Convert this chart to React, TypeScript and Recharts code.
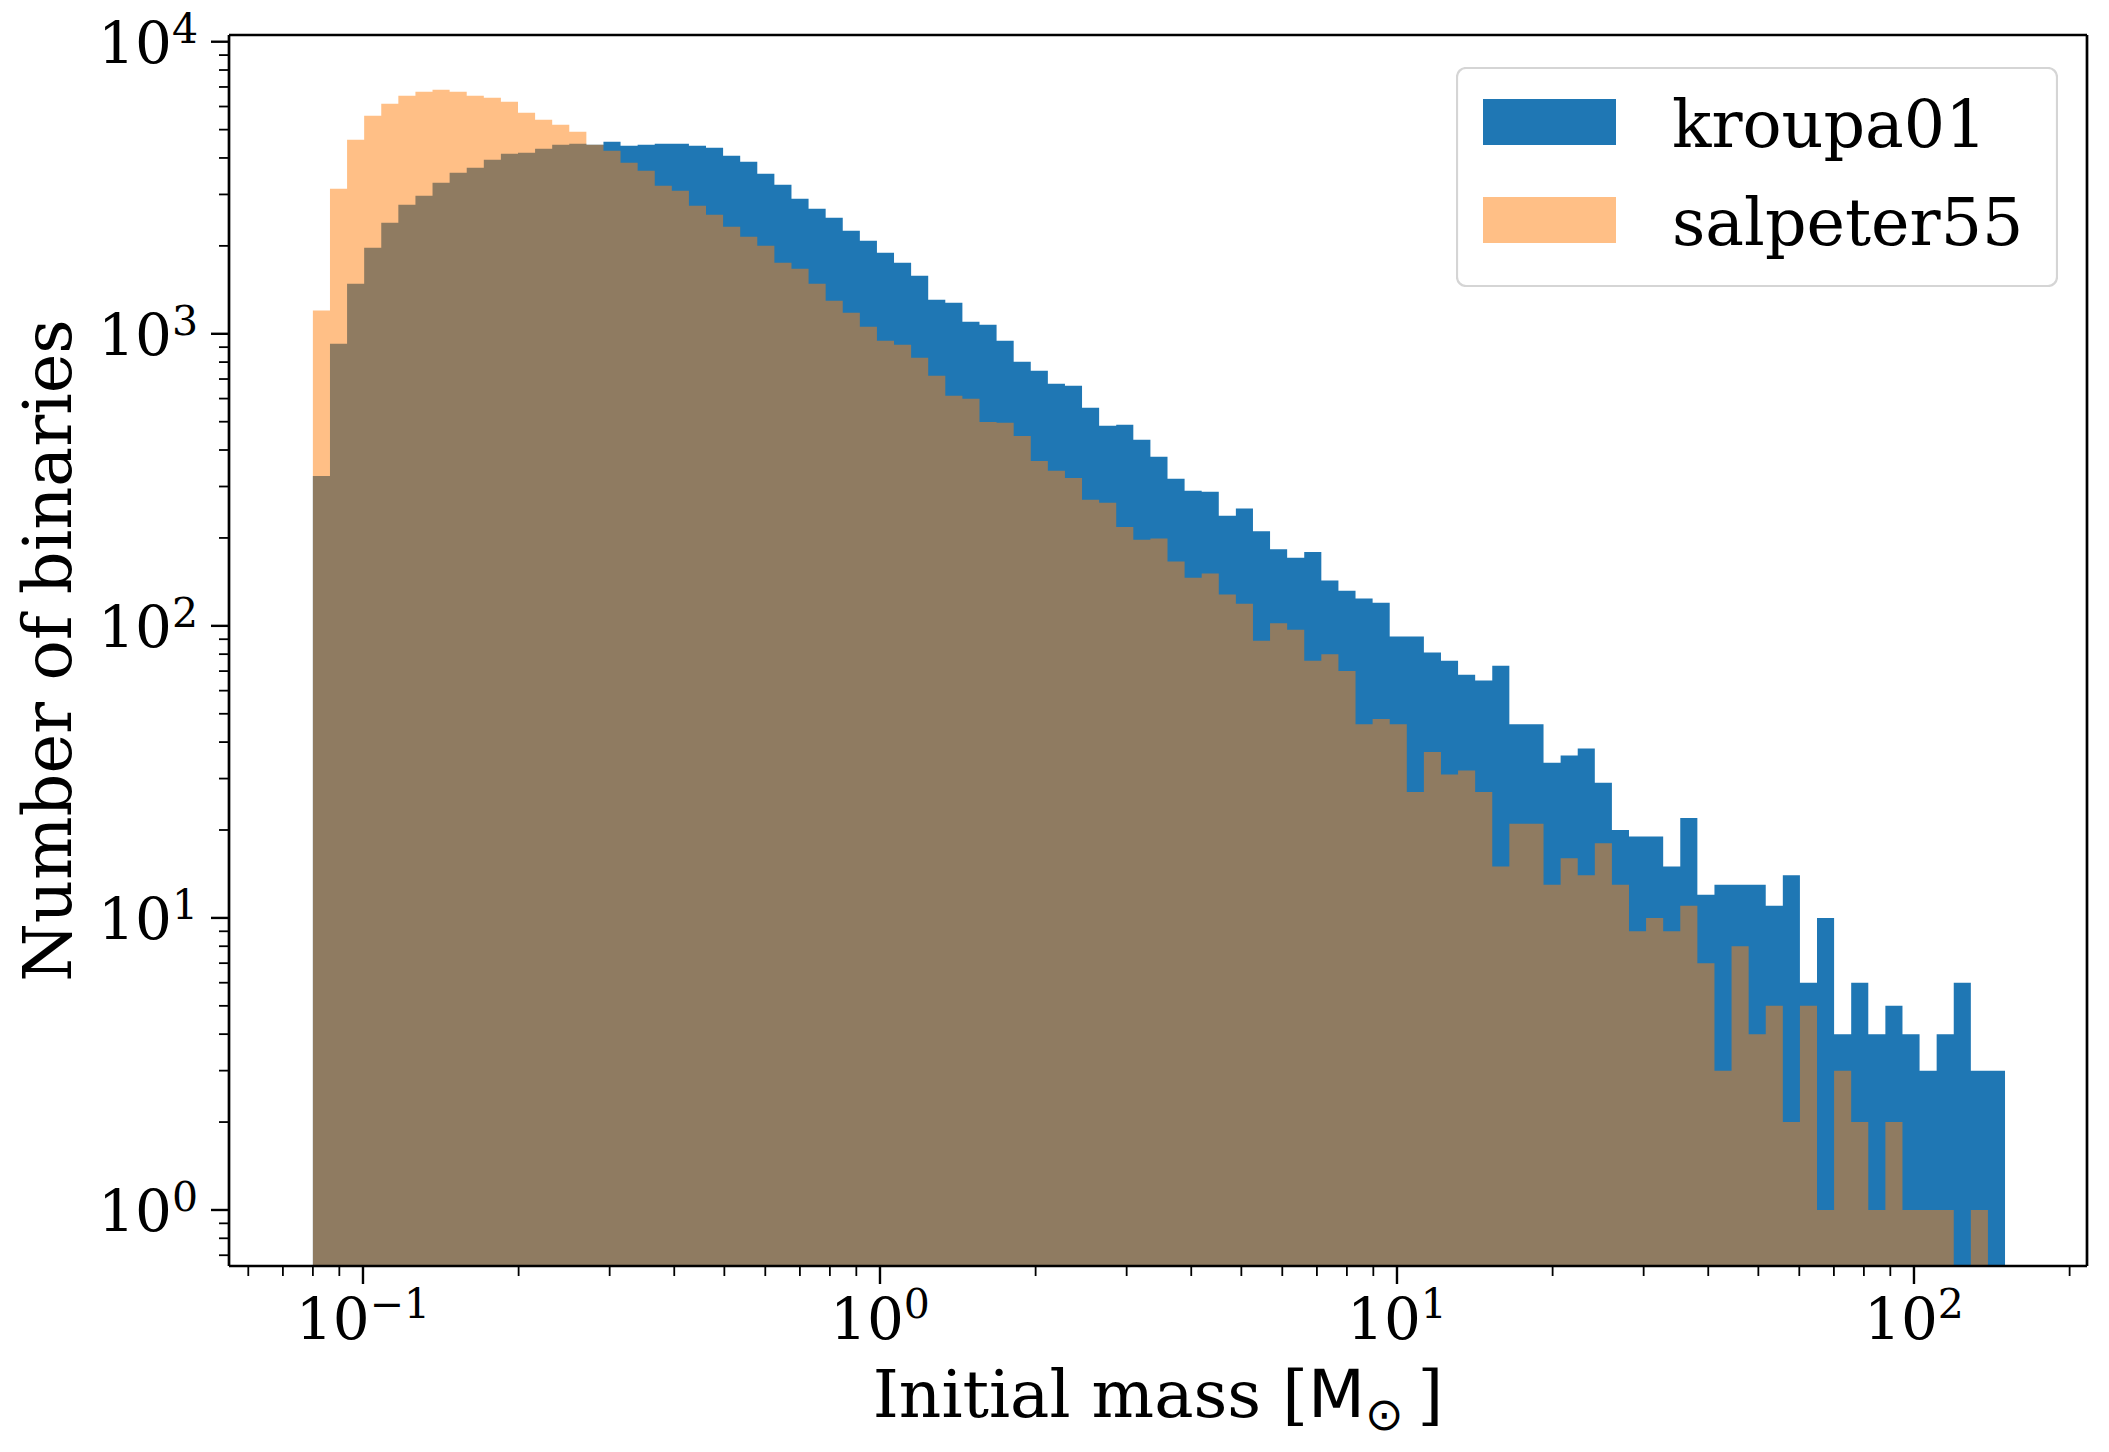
import { ComposedChart, Area, XAxis, YAxis, Legend, ReferenceLine } from "recharts"

// counts per log-spaced mass bin (99 bins from 0.08 to 150 Msun)
const KROUPA01 = [
  326, 924, 1483, 1970, 2399, 2765, 2969, 3289, 3560, 3703,
  3944, 4134, 4168, 4301, 4439, 4474, 4439, 4545, 4404, 4439,
  4474, 4474, 4404, 4335, 4070, 3882, 3531, 3238, 2900, 2680,
  2496, 2253, 2082, 1894, 1751, 1580, 1307, 1277, 1099, 1074,
  946, 802, 747, 674, 664, 558, 484, 488, 434, 379,
  319, 290, 288, 238, 252, 211, 183, 171, 179, 143,
  132, 124, 120, 92, 92, 81, 76, 68, 65, 73,
  46, 46, 34, 36, 38, 29, 20, 19, 19, 15,
  22, 12, 13, 13, 13, 11, 14, 6, 10, 4,
  6, 4, 5, 4, 3, 4, 6, 3, 3,
]

const SALPETER55 = [
  1202, 3138, 4617, 5580, 6134, 6534, 6743, 6850, 6743, 6534,
  6430, 6230, 5712, 5406, 5197, 4918, 4439, 4233, 3851, 3615,
  3212, 3088, 2744, 2556, 2325, 2149, 2002, 1751, 1669, 1483,
  1297, 1180, 1057, 946, 917, 828, 718, 613, 599, 499,
  496, 447, 367, 340, 321, 270, 264, 218, 197, 199,
  166, 146, 151, 128, 119, 89, 102, 97, 76, 80,
  70, 46, 48, 46, 27, 37, 31, 32, 27, 15,
  21, 21, 13, 16, 14, 18, 13, 9, 10, 9,
  11, 7, 3, 8, 4, 5, 2, 5, 1, 3,
  2, 1, 2, 1, 1, 1, 0, 1, 0,
]

const BIN_LO = 0.08
const BIN_HI = 150

const X_MAJOR = [0.1, 1, 10, 100]
const X_MINOR = [
  0.06, 0.07, 0.08, 0.09, 0.2, 0.3, 0.4, 0.5, 0.6, 0.7, 0.8, 0.9,
  2, 3, 4, 5, 6, 7, 8, 9, 20, 30, 40, 50, 60, 70, 80, 90, 200,
]
const Y_MAJOR = [1, 10, 100, 1000, 10000]
const Y_MINOR = [
  0.7, 0.8, 0.9, 2, 3, 4, 5, 6, 7, 8, 9, 20, 30, 40, 50, 60, 70, 80, 90,
  200, 300, 400, 500, 600, 700, 800, 900, 2000, 3000, 4000, 5000, 6000,
  7000, 8000, 9000,
]

const SERIES = [
  { key: "kroupa01", name: "kroupa01", fill: "#1f77b4", opacity: 1, swatch: "#1f77b4" },
  { key: "salpeter55", name: "salpeter55", fill: "#ff7f0e", opacity: 0.5, swatch: "#ffbf86" },
]

const W = 2109
const H = 1452
const PLOT_LEFT = 229
const PLOT_RIGHT = 2087
const PLOT_TOP = 35
const PLOT_BOTTOM = 1266

const X_MIN = 0.05506
const X_MAX = 216.1
const Y_MIN = 0.643
const Y_MAX = 10544

const FONT = "DejaVu Serif"
const TICK_FONT = 58
const SUP_FONT = 41

const nBins = KROUPA01.length
const edges = Array.from(
  { length: nBins + 1 },
  (_, i) => BIN_LO * (BIN_HI / BIN_LO) ** (i / nBins)
)
const floorVal = (v: number) => (v > 0 ? v : Y_MIN)
const rows = edges.map((mass, i) => {
  const j = Math.min(i, nBins - 1)
  return {
    mass,
    kroupa01: floorVal(KROUPA01[j]),
    salpeter55: floorVal(SALPETER55[j]),
  }
})

function expLabel(v: number) {
  const e = Math.round(Math.log10(v))
  return e < 0 ? `\u2212${-e}` : `${e}`
}

function XTick(props: any) {
  const { x, payload } = props
  const v = payload.value
  const major = X_MAJOR.includes(v)
  return (
    <g>
      <line
        x1={x}
        x2={x}
        y1={PLOT_BOTTOM}
        y2={PLOT_BOTTOM + (major ? 18 : 10)}
        stroke="#000"
        strokeWidth={major ? 2.4 : 1.8}
      />
      {major && (
        <text
          x={x}
          y={1339}
          textAnchor="middle"
          fontFamily={FONT}
          fontSize={TICK_FONT}
          fill="#000"
        >
          10
          <tspan dy={-21} fontSize={SUP_FONT}>
            {expLabel(v)}
          </tspan>
        </text>
      )}
    </g>
  )
}

function YTick(props: any) {
  const { y, payload } = props
  const v = payload.value
  const major = Y_MAJOR.includes(v)
  return (
    <g>
      <line
        x1={PLOT_LEFT - (major ? 18 : 10)}
        x2={PLOT_LEFT}
        y1={y}
        y2={y}
        stroke="#000"
        strokeWidth={major ? 2.4 : 1.8}
      />
      {major && (
        <text
          x={PLOT_LEFT - 31}
          y={y + 21}
          textAnchor="end"
          fontFamily={FONT}
          fontSize={TICK_FONT}
          fill="#000"
        >
          10
          <tspan dy={-20} fontSize={SUP_FONT}>
            {expLabel(v)}
          </tspan>
        </text>
      )}
    </g>
  )
}

function LegendBox() {
  return (
    <svg width={602} height={220} style={{ display: "block" }}>
      <rect
        x={1}
        y={1}
        width={600}
        height={218}
        rx={9}
        ry={9}
        fill="#fff"
        stroke="#d5d5d5"
        strokeWidth={2.2}
      />
      {SERIES.map((s, i) => (
        <g key={s.key}>
          <rect x={27} y={32 + i * 98} width={133} height={46} fill={s.swatch} />
          <text
            x={216}
            y={80 + i * 98}
            fontFamily={FONT}
            fontSize={65}
            fill="#000"
          >
            {s.name}
          </text>
        </g>
      ))}
    </svg>
  )
}

export default function App() {
  const spine = { stroke: "#000", strokeWidth: 2.7 }
  return (
    <div style={{ position: "absolute", left: 0, top: 0, width: W, height: H, background: "#fff" }}>
      <ComposedChart
        width={W}
        height={H}
        data={rows}
        margin={{ top: PLOT_TOP, right: W - PLOT_RIGHT, bottom: 0, left: 0 }}
      >
        <XAxis
          dataKey="mass"
          type="number"
          scale="log"
          domain={[X_MIN, X_MAX]}
          allowDataOverflow
          ticks={[...X_MAJOR, ...X_MINOR]}
          interval={0}
          tick={(p: any) => <XTick {...p} />}
          tickLine={false}
          tickSize={0}
          tickMargin={0}
          axisLine={spine}
          height={H - PLOT_BOTTOM}
        />
        <YAxis
          type="number"
          scale="log"
          domain={[Y_MIN, Y_MAX]}
          allowDataOverflow
          ticks={[...Y_MAJOR, ...Y_MINOR]}
          interval={0}
          tick={(p: any) => <YTick {...p} />}
          tickLine={false}
          tickSize={0}
          tickMargin={0}
          axisLine={spine}
          width={PLOT_LEFT}
        />
        {SERIES.map((s) => (
          <Area
            key={s.key}
            dataKey={s.key}
            name={s.name}
            type="stepAfter"
            stroke="none"
            fill={s.fill}
            fillOpacity={s.opacity}
            baseValue={Y_MIN}
            dot={false}
            activeDot={false}
            isAnimationActive={false}
          />
        ))}
        <ReferenceLine y={Y_MAX} stroke="#000" strokeWidth={2.7} />
        <ReferenceLine x={X_MAX} stroke="#000" strokeWidth={2.7} />
        <Legend
          layout="horizontal"
          verticalAlign="middle"
          align="center"
          content={() => <LegendBox />}
          wrapperStyle={{ left: 1456, top: 67, width: 602, height: 220 }}
        />
        <text
          x={(PLOT_LEFT + PLOT_RIGHT) / 2}
          y={1417}
          textAnchor="middle"
          fontFamily={FONT}
          fontSize={66}
          fill="#000"
        >
          Initial mass [<tspan fontFamily="DejaVu Sans">M</tspan>
          <tspan dy={13} fontSize={46} fontFamily="DejaVu Sans">{"\u2299"}</tspan>
          <tspan dy={-13} dx={14}>]</tspan>
        </text>
        <text
          x={71}
          y={(PLOT_TOP + PLOT_BOTTOM) / 2}
          transform={`rotate(-90 71 ${(PLOT_TOP + PLOT_BOTTOM) / 2})`}
          textAnchor="middle"
          fontFamily={FONT}
          fontSize={67}
          fill="#000"
        >
          Number of binaries
        </text>
      </ComposedChart>
    </div>
  )
}
